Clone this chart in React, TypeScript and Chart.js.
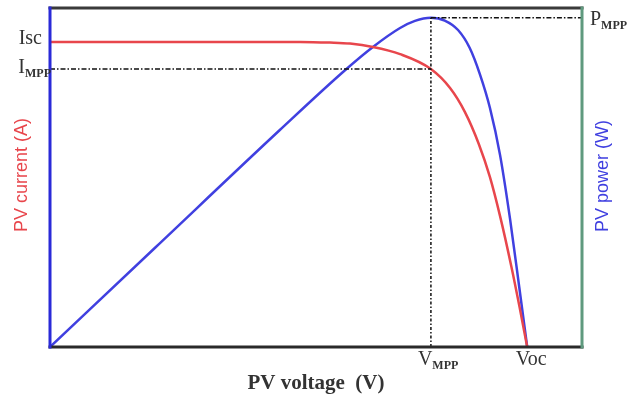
import React, { useEffect, useRef } from "react";
import { Chart, registerables } from "chart.js";

Chart.register(...registerables);

// Current (I-V) curve, normalised units
const currentVoltage = [0, 47.0, 52.6, 56.4, 60.7, 65.8, 71.6, 75.2, 78.0, 80.6, 82.7, 84.6, 86.7, 88.3, 89.7];
const currentValues = [90, 90, 89.8, 89.5, 88.5, 86.4, 82.0, 76.4, 69.3, 59.9, 50.1, 38.6, 23.9, 11.5, 0];

// Power (P-V) curve
const powerVoltage = [0, 19.9, 43.2, 55.5, 60.7, 65.8, 68.6, 71.6, 74.2, 76.7, 78.9, 80.8, 82.7, 84.6, 86.5, 88.2, 89.7];
const powerValues = [0, 29.5, 64.0, 81.7, 88.5, 94.1, 96.2, 97.1, 96.3, 93.5, 88.2, 80.5, 70.5, 56.6, 37.5, 17.7, 0];

// Key points
const VMPP = 71.6;
const VOC = 89.7;
const IMPP = 82.0;
const ISC = 90;
const PMPP = 97.1;

// Axis ranges
const X_MAX = 100;
const Y_MAX = 100;

// Texts
const xTitle = "PV voltage  (V)";
const yTitle = "PV current (A)";
const y2Title = "PV power (W)";
const tickMain = ["Isc", "I", "P", "V", "Voc"];
const tickSub = ["", "MPP", "MPP", "MPP", ""];

const RED = "#e8464c";
const BLUE = "#4040e0";
const TEXT = "#333333";
const SERIF = "'Liberation Serif', 'DejaVu Serif', serif";

const decor = {
  id: "decor",
  afterDatasetsDraw(chart: any) {
    const { ctx, chartArea } = chart;
    const { left, right, top, bottom } = chartArea;
    const xs = chart.scales.x;
    const ys = chart.scales.y;
    const y2 = chart.scales.y2;
    ctx.save();
    // frame
    ctx.lineCap = "square";
    ctx.lineWidth = 3;
    ctx.strokeStyle = "#3a3a3a";
    ctx.beginPath();
    ctx.moveTo(left, top);
    ctx.lineTo(right, top);
    ctx.stroke();
    ctx.strokeStyle = "#2a2a2a";
    ctx.beginPath();
    ctx.moveTo(left, bottom);
    ctx.lineTo(right, bottom);
    ctx.stroke();
    ctx.strokeStyle = "#5f9a7e";
    ctx.beginPath();
    ctx.moveTo(right, top);
    ctx.lineTo(right, bottom);
    ctx.stroke();
    ctx.strokeStyle = "#2a2ad8";
    ctx.beginPath();
    ctx.moveTo(left, top);
    ctx.lineTo(left, bottom);
    ctx.stroke();

    const mainFont = "20px " + SERIF;
    const subFont = "bold 12px " + SERIF;
    ctx.fillStyle = TEXT;
    ctx.textBaseline = "middle";

    const drawSub = (main: string, sub: string, x: number, y: number, align: string) => {
      ctx.font = mainFont;
      const wm = ctx.measureText(main).width;
      ctx.font = subFont;
      const ws = ctx.measureText(sub).width;
      const total = wm + ws;
      let x0 = x;
      if (align === "right") x0 = x - total;
      if (align === "center") x0 = x - total / 2;
      ctx.textAlign = "left";
      ctx.font = mainFont;
      ctx.fillText(main, x0, y);
      ctx.font = subFont;
      ctx.fillText(sub, x0 + wm, y + 6);
    };

    drawSub(tickMain[0], tickSub[0], left - 8, ys.getPixelForValue(ISC) - 3, "right");
    drawSub(tickMain[1], tickSub[1], left + 1, ys.getPixelForValue(IMPP) - 1, "right");
    drawSub(tickMain[2], tickSub[2], right + 8, y2.getPixelForValue(PMPP) + 2, "left");
    drawSub(tickMain[3], tickSub[3], xs.getPixelForValue(VMPP) - 13, bottom + 13, "left");
    drawSub(tickMain[4], tickSub[4], xs.getPixelForValue(VOC) + 4, bottom + 13, "center");

    ctx.font = "bold 21px " + SERIF;
    ctx.textAlign = "center";
    ctx.fillText(xTitle, (left + right) / 2, bottom + 37);

    ctx.font = "18px 'Liberation Sans Narrow', 'Liberation Sans', sans-serif";
    ctx.fillStyle = RED;
    ctx.translate(22, 175);
    ctx.rotate(-Math.PI / 2);
    ctx.fillText(yTitle, 0, 0);
    ctx.rotate(Math.PI / 2);
    ctx.translate(-22, -175);
    ctx.fillStyle = BLUE;
    ctx.translate(603, 176);
    ctx.rotate(-Math.PI / 2);
    ctx.fillText(y2Title, 0, 0);
    ctx.restore();
  },
};

export default function App() {
  const ref = useRef<HTMLCanvasElement | null>(null);
  useEffect(() => {
    document.body.style.margin = "0";
    const canvas = ref.current;
    if (!canvas) return;
    const dash = [5, 2, 1.5, 2];
    const chart = new Chart(canvas, {
      type: "line",
      data: {
        datasets: [
          {
            label: "I_MPP guide",
            data: [
              { x: 0, y: IMPP },
              { x: VMPP, y: IMPP },
            ],
            yAxisID: "y",
            borderColor: "#111",
            borderWidth: 1.5,
            borderDash: dash,
            pointRadius: 0,
          },
          {
            label: "V_MPP guide",
            data: [
              { x: VMPP, y: 0 },
              { x: VMPP, y: PMPP },
            ],
            yAxisID: "y2",
            borderColor: "#111",
            borderWidth: 1.5,
            borderDash: [3, 2, 1.5, 2],
            pointRadius: 0,
          },
          {
            label: "P_MPP guide",
            data: [
              { x: VMPP, y: PMPP },
              { x: X_MAX, y: PMPP },
            ],
            yAxisID: "y2",
            borderColor: "#111",
            borderWidth: 1.5,
            borderDash: dash,
            pointRadius: 0,
          },
          {
            label: "PV current",
            data: currentVoltage.map((v, i) => ({ x: v, y: currentValues[i] })),
            yAxisID: "y",
            borderColor: RED,
            borderWidth: 2.5,
            pointRadius: 0,
            cubicInterpolationMode: "monotone",
          },
          {
            label: "PV power",
            data: powerVoltage.map((v, i) => ({ x: v, y: powerValues[i] })),
            yAxisID: "y2",
            borderColor: BLUE,
            borderWidth: 2.5,
            pointRadius: 0,
            cubicInterpolationMode: "monotone",
          },
        ],
      },
      options: {
        animation: false,
        responsive: false,
        events: [],
        layout: { padding: { left: 50, right: 51, top: 8, bottom: 54 } },
        plugins: { legend: { display: false }, tooltip: { enabled: false } },
        scales: {
          x: { type: "linear", min: 0, max: X_MAX, display: false },
          y: { type: "linear", min: 0, max: Y_MAX, display: false },
          y2: { type: "linear", min: 0, max: Y_MAX, display: false, position: "right" },
        },
      },
      plugins: [decor],
    } as any);
    return () => chart.destroy();
  }, []);
  return <canvas ref={ref} width={633} height={401} style={{ display: "block" }} />;
}
